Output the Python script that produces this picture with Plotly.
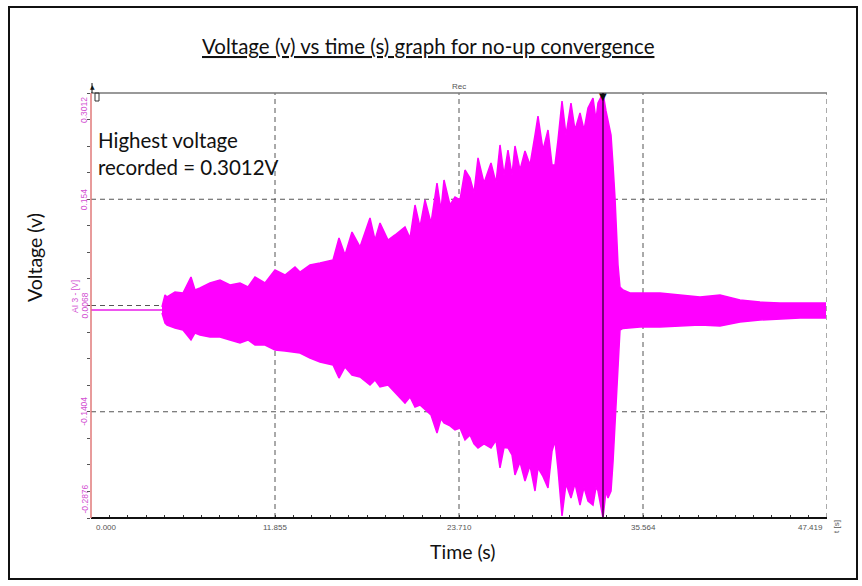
import plotly.graph_objects as go

# ---------------- data ----------------
x_ticks = [0.000, 11.855, 23.710, 35.564, 47.419]
x_tick_labels = ["0.000", "11.855", "23.710", "35.564", "47.419"]
y_ticks = [0.3012, 0.154, 0.0068, -0.1404, -0.2876]
y_tick_labels = ["0.3012", "0.154", "0.0068", "-0.1404", "-0.2876"]

baseline_t = [0.0, 4.574]
baseline_v = [0.0006, 0.0006]

env_t = [4.574, 4.768, 4.897, 5.412, 5.927, 6.443, 6.701, 7.023, 7.667, 8.311,
         8.956, 9.600, 10.115, 10.566, 11.210, 11.855, 12.499, 13.143, 13.465, 14.110,
         14.754, 15.592, 15.978, 16.365, 16.816, 17.331, 17.975, 18.298, 18.620, 19.135,
         19.586, 20.230, 20.553, 20.875, 21.197, 21.519, 21.906, 22.292, 22.550, 22.743,
         23.130, 23.452, 23.774, 24.096, 24.418, 24.676, 24.934, 25.320, 25.771, 26.093,
         26.351, 26.609, 26.866, 27.124, 27.317, 27.640, 27.962, 28.284, 28.606, 28.799,
         29.121, 29.444, 29.701, 29.895, 30.088, 30.346, 30.603, 30.925, 31.183, 31.505,
         31.763, 32.021, 32.343, 32.536, 32.665, 32.987, 33.180, 33.309, 33.503, 33.632,
         33.760, 33.954, 34.082, 34.276, 34.727, 35.371, 36.660, 37.948, 39.237, 40.525,
         41.814, 43.102, 44.391, 45.679, 47.355]
upper_v = [0.0047, 0.0213, 0.0186, 0.0255, 0.0241, 0.0463, 0.0283, 0.0310, 0.0380, 0.0421,
           0.0352, 0.0380, 0.0324, 0.0463, 0.0380, 0.0560, 0.0491, 0.0601, 0.0532, 0.0629,
           0.0657, 0.0698, 0.1003, 0.0768, 0.1086, 0.0879, 0.1280, 0.0975, 0.1211, 0.0975,
           0.1045, 0.1156, 0.1003, 0.1460, 0.1156, 0.1530, 0.1211, 0.1765, 0.1391, 0.1807,
           0.1460, 0.1571, 0.1530, 0.1945, 0.1834, 0.1627, 0.2112, 0.1765, 0.2042, 0.1765,
           0.2292, 0.1876, 0.2222, 0.1876, 0.2278, 0.1945, 0.2209, 0.2015, 0.2430, 0.2693,
           0.2222, 0.2499, 0.2015, 0.2015, 0.2361, 0.2901, 0.2430, 0.2873, 0.2499, 0.2735,
           0.2499, 0.2804, 0.2943, 0.2638, 0.2873, 0.3012, 0.2763, 0.2638, 0.2430, 0.2015,
           0.1557, 0.0629, 0.0324, 0.0283, 0.0241, 0.0241, 0.0241, 0.0213, 0.0186, 0.0213,
           0.0144, 0.0116, 0.0103, 0.0103, 0.0103]
lower_v = [-0.0036, -0.0175, -0.0202, -0.0244, -0.0272, -0.0410, -0.0313, -0.0341, -0.0368, -0.0368,
           -0.0410, -0.0452, -0.0410, -0.0479, -0.0479, -0.0549, -0.0563, -0.0576, -0.0590, -0.0659,
           -0.0715, -0.0756, -0.0937, -0.0784, -0.0895, -0.0923, -0.1034, -0.0964, -0.1061, -0.1034,
           -0.1131, -0.1283, -0.1200, -0.1338, -0.1311, -0.1380, -0.1449, -0.1698, -0.1500, -0.1560,
           -0.1600, -0.1657, -0.1629, -0.1795, -0.1726, -0.1850, -0.1906, -0.1850, -0.1906, -0.1800,
           -0.2183, -0.1900, -0.1906, -0.2000, -0.2280, -0.2100, -0.2363, -0.2150, -0.2502, -0.2183,
           -0.2300, -0.2460, -0.1950, -0.1809, -0.2200, -0.2848, -0.2400, -0.2599, -0.2400, -0.2696,
           -0.2450, -0.2640, -0.2696, -0.2450, -0.2502, -0.2876, -0.2500, -0.2600, -0.2502, -0.2100,
           -0.1532, -0.0687, -0.0272, -0.0250, -0.0244, -0.0230, -0.0230, -0.0216, -0.0202, -0.0216,
           -0.0160, -0.0133, -0.0120, -0.0105, -0.0105]

cursor_t = 32.987
title_text = "Voltage (v) vs time (s) graph for no-up convergence"
note_text = "Highest voltage<br>recorded = 0.3012V"

# ---------------- layout geometry ----------------
W, H = 862, 586
L, R, T, B = 91, 827, 93, 518   # plot area in pixels
def px(x):
    return (x - L) / (R - L)
def py(y):
    return (B - y) / (B - T)

MAG = "#ff00ff"
GRID = "#555555"

fig = go.Figure()
fig.add_trace(go.Scatter(x=baseline_t, y=baseline_v, mode="lines",
                         line=dict(color="#ee55ee", width=2), hoverinfo="skip"))
fig.add_trace(go.Scatter(x=env_t, y=upper_v, mode="lines",
                         line=dict(color=MAG, width=1.5), hoverinfo="skip"))
fig.add_trace(go.Scatter(x=env_t, y=lower_v, mode="lines", fill="tonexty",
                         fillcolor=MAG, line=dict(color=MAG, width=1.5), hoverinfo="skip"))

shapes = []
for xv in x_ticks[1:]:
    shapes.append(dict(type="line", xref="x", yref="paper", x0=xv, x1=xv, y0=0, y1=1,
                       line=dict(color=GRID, width=1, dash="5px,4px"), layer="below"))
for yv in y_ticks[1:-1]:
    shapes.append(dict(type="line", xref="paper", yref="y", x0=0, x1=1, y0=yv, y1=yv,
                       line=dict(color=GRID, width=1, dash="5px,4px"), layer="below"))
shapes.append(dict(type="line", xref="paper", yref="paper", x0=0, x1=1, y0=1, y1=1,
                   line=dict(color="#777777", width=1.5)))
shapes.append(dict(type="line", xref="x", yref="paper", x0=cursor_t, x1=cursor_t, y0=0, y1=1,
                   line=dict(color="rgba(40,0,40,0.85)", width=1.5)))
shapes.append(dict(type="line", xref="paper", yref="paper", x0=0, x1=1, y0=0, y1=0,
                   line=dict(color="#111111", width=2)))
shapes.append(dict(type="line", xref="paper", yref="paper", x0=0, x1=0, y0=0, y1=1.0,
                   line=dict(color="#e07a7a", width=1.5)))
shapes.append(dict(type="line", xref="paper", yref="paper", x0=px(92), x1=px(92), y0=1, y1=py(83),
                   line=dict(color="#111111", width=1)))
shapes.append(dict(type="rect", xref="paper", yref="paper", x0=px(95), x1=px(99), y0=py(101), y1=py(93),
                   line=dict(color="#333333", width=1)))
shapes.append(dict(type="rect", xref="paper", yref="paper", x0=px(9), x1=px(857), y0=py(579), y1=py(7),
                   line=dict(color="#111111", width=2)))

annotations = []
for i, (v, lab) in enumerate(zip(x_ticks, x_tick_labels)):
    anchor = "left" if i == 0 else ("right" if i == len(x_ticks) - 1 else "center")
    xs = 3 if i == 0 else (-2 if i == len(x_ticks) - 1 else 0)
    annotations.append(dict(x=v, y=py(527), xref="x", yref="paper", text=lab, showarrow=False,
                            xanchor=anchor, yanchor="middle", xshift=xs,
                            font=dict(family="Arial", size=8, color="#555555")))
for i, (v, lab) in enumerate(zip(y_ticks, y_tick_labels)):
    if i == 0:
        ys, ya = -2, "top"
    elif i == len(y_ticks) - 1:
        ys, ya = 2, "bottom"
    else:
        ys, ya = 0, "middle"
    annotations.append(dict(x=px(84), y=v, xref="paper", yref="y", text=lab, showarrow=False,
                            textangle=-90, xanchor="center", yanchor=ya, yshift=ys,
                            font=dict(family="Arial", size=8.5, color="#d24fd2")))
annotations.append(dict(x=px(75), y=py(297), xref="paper", yref="paper", text="AI 3 - [V]",
                        showarrow=False, textangle=-90, xanchor="center", yanchor="middle",
                        font=dict(family="Arial", size=8.5, color="#d24fd2")))
annotations.append(dict(x=px(836), y=py(527), xref="paper", yref="paper", text="t [s]",
                        showarrow=False, textangle=-90, xanchor="center", yanchor="middle",
                        font=dict(family="Arial", size=8, color="#555555")))
annotations.append(dict(x=x_ticks[2], y=1, xref="x", yref="paper", text="Rec", showarrow=False,
                        xanchor="center", yanchor="bottom", yshift=0,
                        font=dict(family="Arial", size=8, color="#555555")))
annotations.append(dict(x=cursor_t, y=1, xref="x", yref="paper", text="▼", showarrow=False,
                        xanchor="center", yanchor="top", yshift=4,
                        font=dict(family="DejaVu Sans", size=10, color="#111111")))
annotations.append(dict(x=px(92), y=py(86), xref="paper", yref="paper", text="▲", showarrow=False,
                        xanchor="center", yanchor="middle",
                        font=dict(family="DejaVu Sans", size=6, color="#111111")))
annotations.append(dict(x=px(428), y=py(46), xref="paper", yref="paper",
                        text="<u>" + title_text + "</u>", showarrow=False,
                        xanchor="center", yanchor="middle",
                        font=dict(family="Lato", size=20.5, color="#111111")))
annotations.append(dict(x=px(96), y=py(153), xref="paper", yref="paper", text=note_text,
                        showarrow=False, xanchor="left", yanchor="middle", align="left",
                        font=dict(family="Lato", size=20.5, color="#111111")))
annotations.append(dict(x=px(34), y=py(258), xref="paper", yref="paper", text="Voltage (v)",
                        showarrow=False, textangle=-90, xanchor="center", yanchor="middle",
                        font=dict(family="Lato", size=19.5, color="#111111")))
annotations.append(dict(x=px(463), y=py(551), xref="paper", yref="paper", text="Time (s)",
                        showarrow=False, xanchor="center", yanchor="middle",
                        font=dict(family="Lato", size=19.5, color="#111111")))

fig.update_layout(
    width=W, height=H,
    margin=dict(l=L, r=W - R, t=T, b=H - B, pad=0),
    paper_bgcolor="white", plot_bgcolor="white",
    showlegend=False,
    shapes=shapes, annotations=annotations,
    xaxis=dict(range=[x_ticks[0], x_ticks[-1]], showgrid=False, zeroline=False,
               showticklabels=False, showline=False, ticks="inside", ticklen=3,
               tickcolor="#333333", tick0=0, dtick=(x_ticks[1] - x_ticks[0]) / 10),
    yaxis=dict(range=[y_ticks[-1], y_ticks[0]], showgrid=False, zeroline=False,
               showticklabels=False, showline=False, ticks="outside", ticklen=3,
               tickcolor="#555555", tick0=y_ticks[-1], dtick=(y_ticks[0] - y_ticks[-1]) / 16),
)

fig.write_html("out.html")
